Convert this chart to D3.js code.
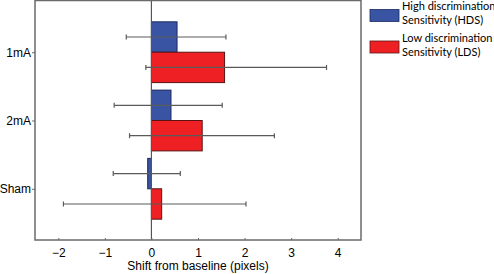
<!DOCTYPE html>
<html>
<head>
<meta charset="utf-8">
<script src="https://cdn.jsdelivr.net/npm/d3@7"></script>
<style>
  body { margin: 0; background: #fff; }
  svg { display: block; }
</style>
</head>
<body>
<div id="chart"></div>
<script>
// Data
const conditions = ["1mA", "2mA", "Sham"];
const groups = ["HDS", "LDS"];
const hdsMean = [0.55, 0.42, -0.08];
const hdsLow = [-0.54, -0.80, -0.82];
const hdsHigh = [1.60, 1.52, 0.62];
const ldsMean = [1.57, 1.09, 0.22];
const ldsLow = [-0.12, -0.47, -1.89];
const ldsHigh = [3.76, 2.64, 2.03];
const xTicks = [-2, -1, 0, 1, 2, 3, 4];
const legendLabels = [["High discrimination", "Sensitivity (HDS)"], ["Low discrimination", "Sensitivity (LDS)"]];

const W = 494, H = 274;
const margin = {top: 0, right: 133, bottom: 34, left: 35};
const width = W - margin.left - margin.right;
const height = H - margin.top - margin.bottom;

const colors = d3.scaleOrdinal().domain(groups).range(["#3a54a4", "#ee2024"]);
const strokes = d3.scaleOrdinal().domain(groups).range(["#1b2a5e", "#5a1414"]);

const svg = d3.select("#chart").append("svg")
    .attr("width", W)
    .attr("height", H)
  .append("g")
    .attr("transform", `translate(${margin.left},${margin.top})`);

const x = d3.scaleLinear().domain([-2.5, 4.5]).range([0, width]);
// categories at 1,2,3 with limits 0.25..3.75
const y = d3.scaleLinear().domain([0.25, 3.75]).range([1, height]);
const barH = 0.445;

const rows = [];
conditions.forEach((c, i) => {
  rows.push({cond: c, group: "HDS", mean: hdsMean[i], lo: hdsLow[i], hi: hdsHigh[i], y0: i + 1 - barH, y1: i + 1});
  rows.push({cond: c, group: "LDS", mean: ldsMean[i], lo: ldsLow[i], hi: ldsHigh[i], y0: i + 1, y1: i + 1 + barH});
});

// bars
svg.selectAll(".bar")
  .data(rows)
  .enter()
  .append("rect")
    .attr("class", "bar")
    .attr("x", d => x(Math.min(0, d.mean)))
    .attr("width", d => Math.abs(x(d.mean) - x(0)))
    .attr("y", d => y(d.y0))
    .attr("height", d => y(d.y1) - y(d.y0))
    .attr("fill", d => colors(d.group))
    .attr("stroke", d => strokes(d.group))
    .attr("stroke-width", 1);

// zero line
svg.append("line")
  .attr("x1", x(0)).attr("x2", x(0))
  .attr("y1", 0).attr("y2", height)
  .attr("stroke", "#555")
  .attr("stroke-width", 1.2);

// error bars
const err = svg.selectAll(".err")
  .data(rows)
  .enter()
  .append("g")
    .attr("class", "err")
    .attr("stroke", "#5a5a5a")
    .attr("stroke-width", 1.2);

err.append("line")
  .attr("x1", d => x(d.lo)).attr("x2", d => x(d.hi))
  .attr("y1", d => y((d.y0 + d.y1) / 2)).attr("y2", d => y((d.y0 + d.y1) / 2));
err.append("line")
  .attr("x1", d => x(d.lo)).attr("x2", d => x(d.lo))
  .attr("y1", d => y((d.y0 + d.y1) / 2) - 2.5).attr("y2", d => y((d.y0 + d.y1) / 2) + 2.5);
err.append("line")
  .attr("x1", d => x(d.hi)).attr("x2", d => x(d.hi))
  .attr("y1", d => y((d.y0 + d.y1) / 2) - 2.5).attr("y2", d => y((d.y0 + d.y1) / 2) + 2.5);

// frame
svg.append("rect")
  .attr("x", 0).attr("y", 0.5)
  .attr("width", width).attr("height", height - 0.5)
  .attr("fill", "none")
  .attr("stroke", "#6a6a6a")
  .attr("stroke-width", 1.5);

// X axis
const xAxis = svg.append("g")
  .attr("transform", `translate(0,${height})`)
  .call(d3.axisBottom(x).tickValues(xTicks).tickSizeInner(-2).tickSizeOuter(0)
    .tickFormat(d => d < 0 ? "\u2212" + Math.abs(d) : d));
xAxis.select(".domain").remove();
xAxis.selectAll("line").attr("stroke", "#6a6a6a");
xAxis.selectAll("text")
  .attr("y", 8)
  .style("font-size", "12px")
  .style("font-family", "Liberation Sans, Arial, sans-serif")
  .attr("fill", "#000");

// Y axis
const yAxis = svg.append("g")
  .call(d3.axisLeft(y).tickValues([1, 2, 3]).tickSizeInner(3).tickSizeOuter(0)
    .tickFormat(d => conditions[d - 1]));
yAxis.select(".domain").remove();
yAxis.selectAll("line").attr("stroke", "#6a6a6a");
yAxis.selectAll("text")
  .attr("x", -4)
  .style("font-size", "12px")
  .style("font-family", "Liberation Sans, Arial, sans-serif")
  .attr("fill", "#000");

// X label
svg.append("text")
  .attr("x", x(1))
  .attr("y", height + 30)
  .attr("text-anchor", "middle")
  .style("font-size", "12px")
  .style("font-family", "Liberation Sans, Arial, sans-serif")
  .text("Shift from baseline (pixels)");

// legend
const legend = svg.append("g")
  .attr("transform", `translate(${width + 9}, 0)`);

const items = legend.selectAll(".legend-item")
  .data(groups)
  .enter()
  .append("g")
    .attr("class", "legend-item")
    .attr("transform", (d, i) => `translate(0, ${i * 31.5})`);

items.append("rect")
  .attr("x", 0).attr("y", 9.5)
  .attr("width", 29).attr("height", 12)
  .attr("fill", d => colors(d))
  .attr("stroke", d => strokes(d))
  .attr("stroke-width", 0.8);

items.each(function(d, i) {
  const t = d3.select(this).append("text")
    .style("font-size", "11px")
    .style("font-family", "Lato, 'Open Sans', sans-serif")
    .attr("fill", "#000");
  legendLabels[i].forEach((line, j) => {
    t.append("tspan")
      .attr("x", 32)
      .attr("y", 10 + j * 14)
      .text(line);
  });
});
</script>
</body>
</html>
